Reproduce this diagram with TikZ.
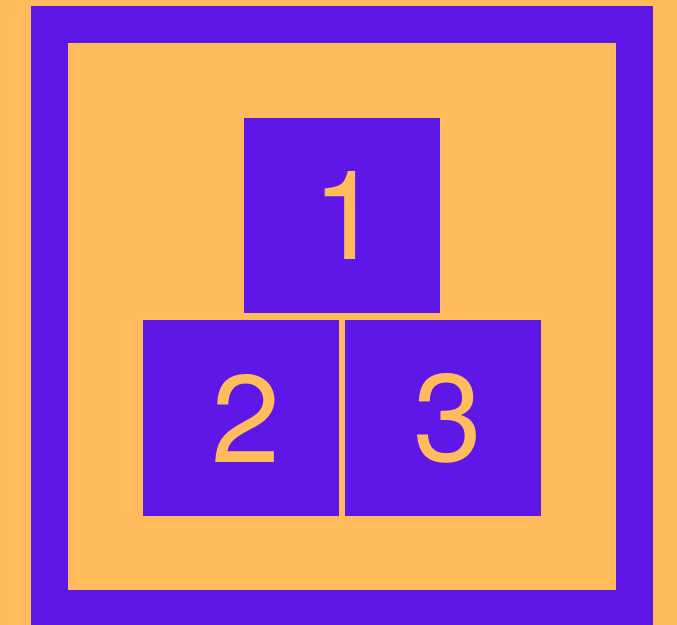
\documentclass[tikz,border=0pt]{standalone}
\usepackage{fontspec}
\setmainfont{TeX Gyre Heros}
\usepackage{tikz}
\usepackage{xcolor}

\definecolor{bgorange}{HTML}{FFBB5C}
\definecolor{boxpurple}{HTML}{5F17E8}

\begin{document}
\begin{tikzpicture}[x=0.03cm,y=-0.03cm,
  numbox/.style={fill=boxpurple,text=bgorange,inner sep=0pt,
    minimum width=5.88cm,minimum height=5.85cm,
    font=\fontsize{106}{106}\selectfont}]
\fill[bgorange] (0,0) rectangle (677,625);
\useasboundingbox (0,0) rectangle (677,625);
% frame
\fill[boxpurple] (31,6) rectangle (653,625);
\fill[bgorange] (68,43) rectangle (616,590);
% the three boxes
\node[numbox] (one) at (342,215.5) {\kern0.3cm 1};
\node[numbox] (two) at (241,418) {\kern0.3cm 2};
\node[numbox] (three) at (443,418) {\kern0.3cm 3};
\end{tikzpicture}
\end{document}
